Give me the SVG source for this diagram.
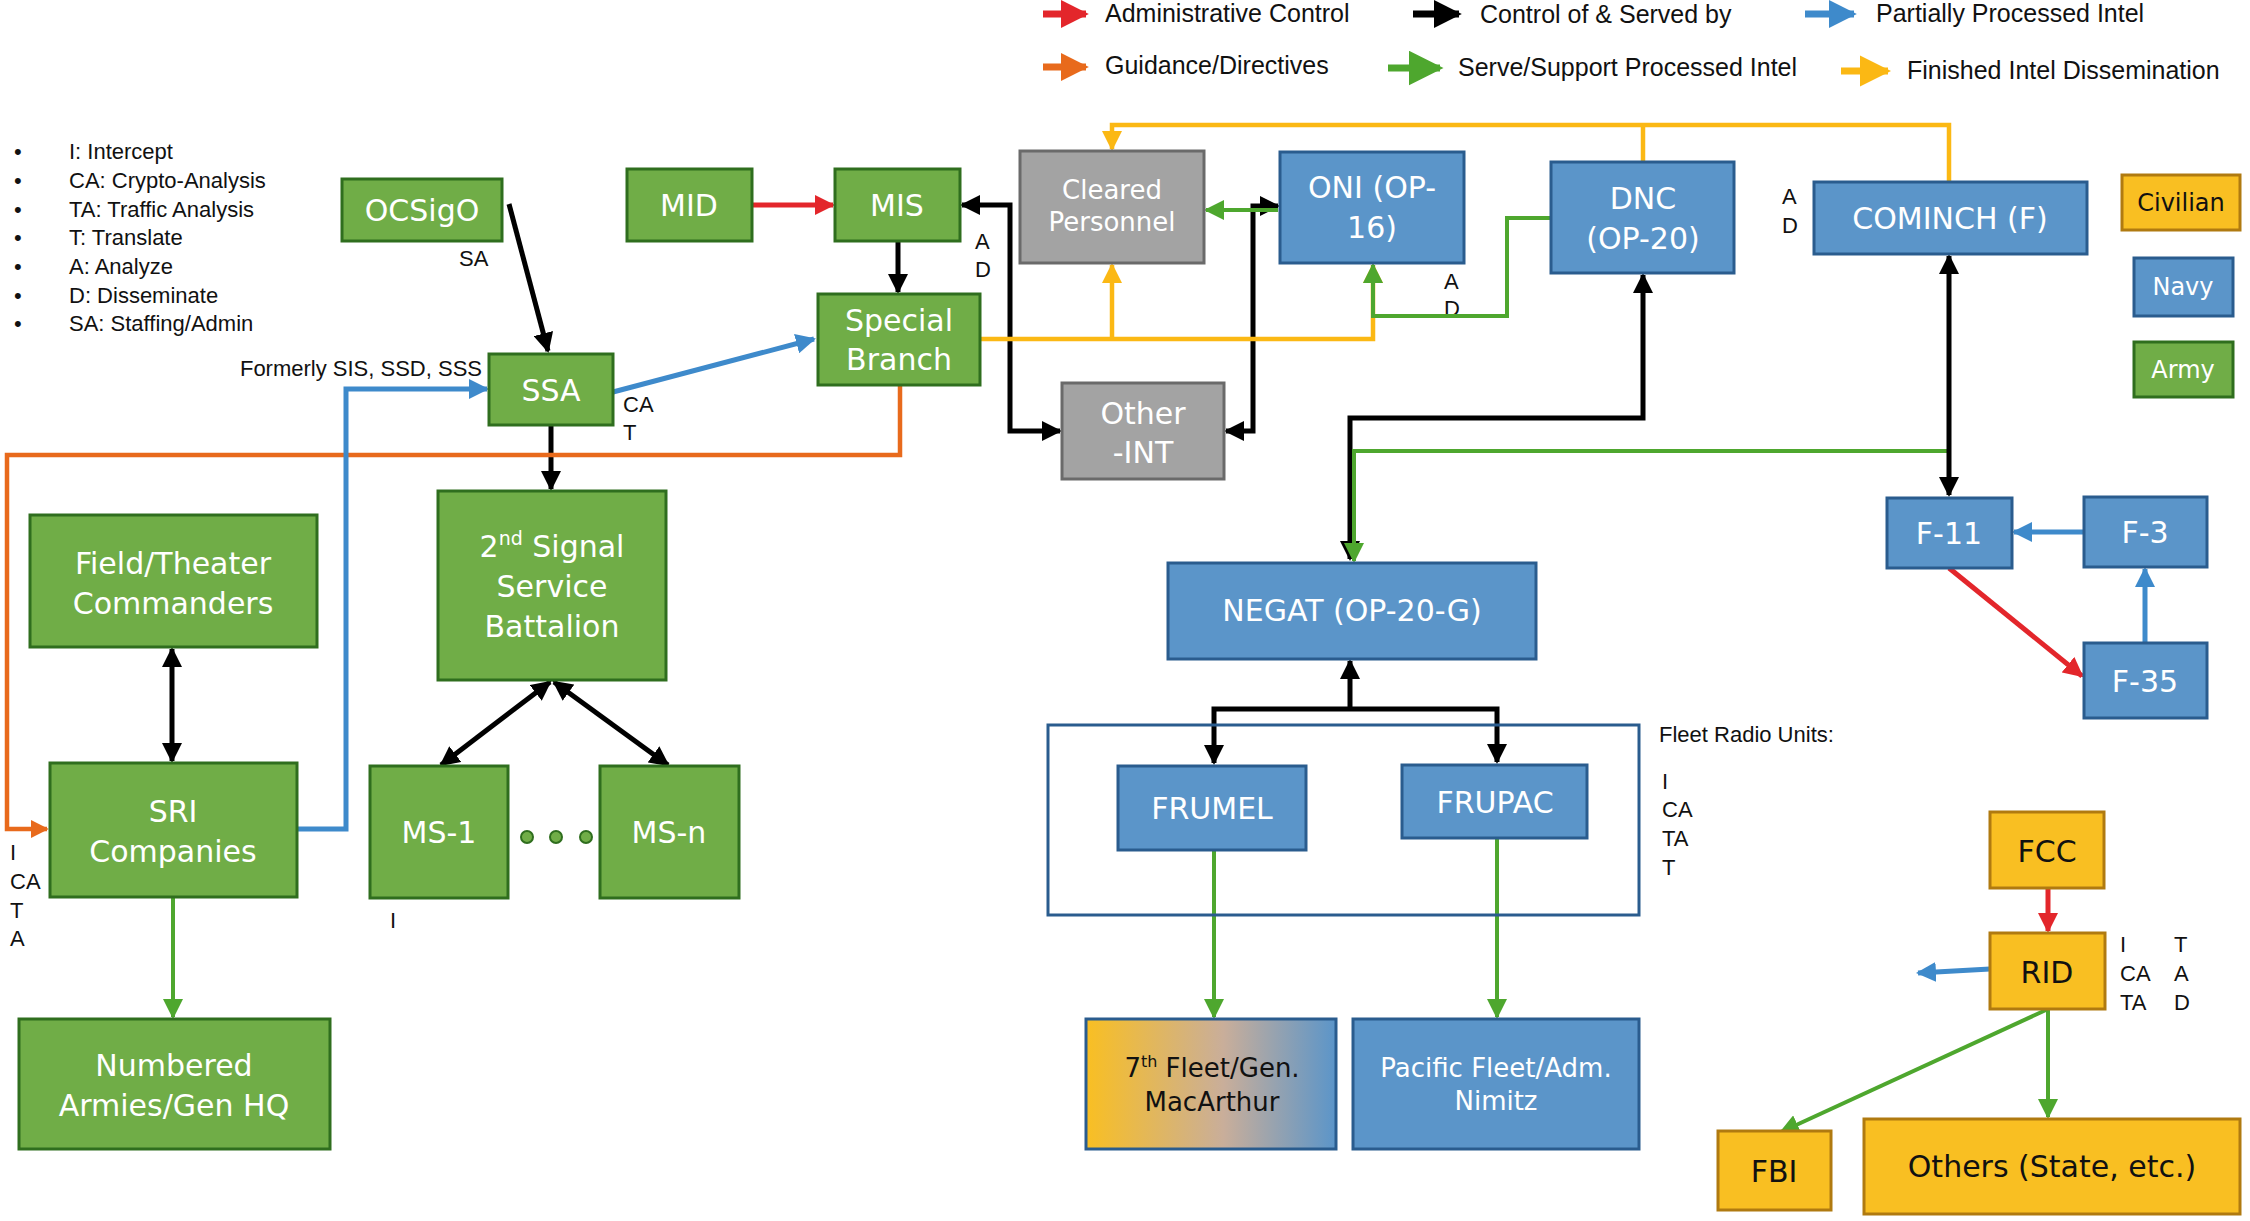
<svg xmlns="http://www.w3.org/2000/svg" width="2250" height="1221" viewBox="0 0 2250 1221">
<style>
.g{fill:#70AD47;stroke:#2F6E1E;stroke-width:3}
.b{fill:#5B95C9;stroke:#2A5C8E;stroke-width:3}
.y{fill:#F9BF22;stroke:#B07A10;stroke-width:3}
.gr{fill:#A3A3A3;stroke:#6A6A6A;stroke-width:3}
.t{font-family:"DejaVu Sans",sans-serif;fill:#fff;text-anchor:middle}
.tk{font-family:"DejaVu Sans",sans-serif;fill:#111;text-anchor:middle}
.s{font-family:"Liberation Sans",Arial,sans-serif;fill:#111;font-size:22px}
.l{font-family:"Liberation Sans",Arial,sans-serif;fill:#111;font-size:25px}
line,polyline{fill:none}
.k{stroke:#000;stroke-width:5}
.r{stroke:#E3262B;stroke-width:5}
.bl{stroke:#3E8ACB;stroke-width:5}
.o{stroke:#E86A1C;stroke-width:4.5}
.gn{stroke:#4EA72E;stroke-width:4}
.yl{stroke:#FBB814;stroke-width:4.5}
</style>
<defs>
<marker id="mk" viewBox="0 0 10 10" refX="9" refY="5" markerWidth="4" markerHeight="4" orient="auto-start-reverse"><path d="M0,0L10,5L0,10z" fill="#000"/></marker>
<marker id="mr" viewBox="0 0 10 10" refX="9" refY="5" markerWidth="4" markerHeight="4" orient="auto"><path d="M0,0L10,5L0,10z" fill="#E3262B"/></marker>
<marker id="mb" viewBox="0 0 10 10" refX="9" refY="5" markerWidth="4" markerHeight="4" orient="auto"><path d="M0,0L10,5L0,10z" fill="#3E8ACB"/></marker>
<marker id="mo" viewBox="0 0 10 10" refX="9" refY="5" markerWidth="4" markerHeight="4" orient="auto"><path d="M0,0L10,5L0,10z" fill="#E86A1C"/></marker>
<marker id="mg" viewBox="0 0 10 10" refX="9" refY="5" markerWidth="5" markerHeight="5" orient="auto"><path d="M0,0L10,5L0,10z" fill="#4EA72E"/></marker>
<marker id="my" viewBox="0 0 10 10" refX="9" refY="5" markerWidth="4.5" markerHeight="4.5" orient="auto"><path d="M0,0L10,5L0,10z" fill="#FBB814"/></marker>
<linearGradient id="grad" x1="0" x2="1" y1="0" y2="0"><stop offset="0" stop-color="#F9BF22"/><stop offset="0.55" stop-color="#C9AE9A"/><stop offset="1" stop-color="#5B95C9"/></linearGradient>
</defs>
<rect width="2250" height="1221" fill="#fff"/>

<g id="legend">
<line x1="1043" y1="14" x2="1086" y2="14" stroke="#E3262B" stroke-width="7" marker-end="url(#mr)"/>
<text class="l" x="1105" y="22">Administrative Control</text>
<line x1="1413" y1="14" x2="1459" y2="14" stroke="#000" stroke-width="7" marker-end="url(#mk)"/>
<text class="l" x="1480" y="23">Control of &amp; Served by</text>
<line x1="1805" y1="14" x2="1854" y2="14" stroke="#3E8ACB" stroke-width="7" marker-end="url(#mb)"/>
<text class="l" x="1876" y="22">Partially Processed Intel</text>
<line x1="1043" y1="67" x2="1086" y2="67" stroke="#E86A1C" stroke-width="7" marker-end="url(#mo)"/>
<text class="l" x="1105" y="74">Guidance/Directives</text>
<line x1="1388" y1="68" x2="1440" y2="68" stroke="#4EA72E" stroke-width="7" marker-end="url(#mg)"/>
<text class="l" x="1458" y="76">Serve/Support Processed Intel</text>
<line x1="1841" y1="71" x2="1888" y2="71" stroke="#FBB814" stroke-width="7" marker-end="url(#my)"/>
<text class="l" x="1907" y="79">Finished Intel Dissemination</text>
</g>

<g id="abbrev" class="s">
<text x="14" y="159">•</text><text x="69" y="159">I: Intercept</text>
<text x="14" y="188">•</text><text x="69" y="188">CA: Crypto-Analysis</text>
<text x="14" y="217">•</text><text x="69" y="217">TA: Traffic Analysis</text>
<text x="14" y="245">•</text><text x="69" y="245">T: Translate</text>
<text x="14" y="274">•</text><text x="69" y="274">A: Analyze</text>
<text x="14" y="303">•</text><text x="69" y="303">D: Disseminate</text>
<text x="14" y="331">•</text><text x="69" y="331">SA: Staffing/Admin</text>
</g>

<g id="labels" class="s">
<text x="459" y="266">SA</text>
<text x="482" y="376" text-anchor="end">Formerly SIS, SSD, SSS</text>
<text x="623" y="412">CA</text><text x="623" y="440">T</text>
<text x="975" y="249">A</text><text x="975" y="277">D</text>
<text x="1444" y="289">A</text><text x="1444" y="316">D</text>
<text x="1782" y="204">A</text><text x="1782" y="233">D</text>
<text x="10" y="860">I</text><text x="10" y="889">CA</text><text x="10" y="918">T</text><text x="10" y="946">A</text>
<text x="390" y="928">I</text>
<text x="1659" y="742">Fleet Radio Units:</text>
<text x="1662" y="789">I</text><text x="1662" y="817">CA</text><text x="1662" y="846">TA</text><text x="1662" y="875">T</text>
<text x="2120" y="952">I</text><text x="2120" y="981">CA</text><text x="2120" y="1010">TA</text>
<text x="2174" y="952">T</text><text x="2174" y="981">A</text><text x="2174" y="1010">D</text>
</g>

<g id="connectors">
<line class="r" x1="752" y1="205" x2="833" y2="205" marker-end="url(#mr)"/>
<line class="k" x1="509" y1="204" x2="548" y2="351" marker-end="url(#mk)"/>
<line class="k" x1="898" y1="241" x2="898" y2="292" marker-end="url(#mk)"/>
<line class="bl" x1="613" y1="392" x2="814" y2="339" marker-end="url(#mb)"/>
<line class="k" x1="551" y1="425" x2="551" y2="489" marker-end="url(#mk)"/>
<polyline class="o" points="900,385 900,455 7,455 7,829 47,829" marker-end="url(#mo)"/>
<polyline class="bl" points="297,829 346,829 346,389 487,389" marker-end="url(#mb)"/>
<polyline class="k" points="962,205 1010,205 1010,431 1060,431" marker-start="url(#mk)" marker-end="url(#mk)"/>
<polyline class="k" points="1278,206 1253,206 1253,431 1226,431" marker-start="url(#mk)" marker-end="url(#mk)"/>
<line class="gn" x1="1278" y1="210" x2="1206" y2="210" marker-end="url(#mg)"/>
<polyline class="yl" points="980,339 1373,339 1373,265" marker-end="url(#my)"/>
<line class="yl" x1="1112" y1="339" x2="1112" y2="265" marker-end="url(#my)"/>
<polyline class="yl" points="1949,182 1949,125 1112,125 1112,149" marker-end="url(#my)"/>
<line class="yl" x1="1643" y1="162" x2="1643" y2="125"/>
<polyline class="gn" points="1551,218 1507,218 1507,316 1373,316 1373,265" marker-end="url(#mg)"/>
<polyline class="k" points="1643,275 1643,418 1350,418 1350,559" marker-start="url(#mk)" marker-end="url(#mk)"/>
<polyline class="gn" points="1949,451 1354,451 1354,561" marker-end="url(#mg)"/>
<line class="k" x1="1949" y1="256" x2="1949" y2="495" marker-start="url(#mk)" marker-end="url(#mk)"/>
<line class="bl" x1="2084" y1="532" x2="2014" y2="532" marker-end="url(#mb)"/>
<line class="r" x1="1949" y1="568" x2="2082" y2="676" marker-end="url(#mr)"/>
<line class="bl" stroke-width="4" x1="2145" y1="643" x2="2145" y2="569" marker-end="url(#mb)"/>
<polyline class="k" points="1350,661 1350,709" marker-start="url(#mk)"/>
<polyline class="k" points="1214,763 1214,709 1497,709 1497,762" marker-start="url(#mk)" marker-end="url(#mk)"/>
<line class="gn" x1="1214" y1="850" x2="1214" y2="1017" marker-end="url(#mg)"/>
<line class="gn" x1="1497" y1="838" x2="1497" y2="1017" marker-end="url(#mg)"/>
<line class="r" stroke-width="4" x1="2048" y1="888" x2="2048" y2="931" marker-end="url(#mr)"/>
<line class="bl" x1="1990" y1="969" x2="1918" y2="973" marker-end="url(#mb)"/>
<line class="gn" stroke-width="5" x1="2048" y1="1009" x2="1781" y2="1132" marker-end="url(#mg)"/>
<line class="gn" x1="2048" y1="1009" x2="2048" y2="1117" marker-end="url(#mg)"/>
<line class="k" x1="172" y1="649" x2="172" y2="761" marker-start="url(#mk)" marker-end="url(#mk)"/>
<line class="k" x1="550" y1="682" x2="441" y2="765" marker-start="url(#mk)" marker-end="url(#mk)"/>
<line class="k" x1="554" y1="682" x2="668" y2="765" marker-start="url(#mk)" marker-end="url(#mk)"/>
<line class="gn" x1="173" y1="897" x2="173" y2="1017" marker-end="url(#mg)"/>
</g>

<g id="OCSigO"><rect class="g" x="342" y="179" width="160" height="62"/><text class="t" x="422" y="221" font-size="30">OCSigO</text></g>
<g id="MID"><rect class="g" x="627" y="169" width="125" height="72"/><text class="t" x="689" y="216" font-size="30">MID</text></g>
<g id="MIS"><rect class="g" x="835" y="169" width="125" height="72"/><text class="t" x="897" y="216" font-size="30">MIS</text></g>
<g id="SpecialBranch"><rect class="g" x="818" y="294" width="162" height="91"/><text class="t" x="899" y="331" font-size="30">Special</text><text class="t" x="899" y="370" font-size="30">Branch</text></g>
<g id="SSA"><rect class="g" x="489" y="354" width="124" height="71"/><text class="t" x="551" y="401" font-size="30">SSA</text></g>
<g id="ClearedPersonnel"><rect class="gr" x="1020" y="151" width="184" height="112"/><text class="t" x="1112" y="199" font-size="26">Cleared</text><text class="t" x="1112" y="231" font-size="26">Personnel</text></g>
<g id="ONI"><rect class="b" x="1280" y="152" width="184" height="111"/><text class="t" x="1372" y="198" font-size="30">ONI (OP-</text><text class="t" x="1372" y="238" font-size="30">16)</text></g>
<g id="DNC"><rect class="b" x="1551" y="162" width="183" height="111"/><text class="t" x="1643" y="209" font-size="30">DNC</text><text class="t" x="1643" y="249" font-size="30">(OP-20)</text></g>
<g id="COMINCH"><rect class="b" x="1814" y="182" width="273" height="72"/><text class="t" x="1950" y="229" font-size="30">COMINCH (F)</text></g>
<g id="Civilian"><rect class="y" x="2122" y="175" width="118" height="55"/><text class="tk" x="2181" y="211" font-size="24">Civilian</text></g>
<g id="Navy"><rect class="b" x="2134" y="258" width="99" height="58"/><text class="t" x="2183" y="295" font-size="24">Navy</text></g>
<g id="Army"><rect class="g" x="2134" y="342" width="99" height="55"/><text class="t" x="2183" y="378" font-size="24">Army</text></g>
<g id="OtherINT"><rect class="gr" x="1062" y="383" width="162" height="96"/><text class="t" x="1143" y="424" font-size="30">Other</text><text class="t" x="1143" y="463" font-size="30">-INT</text></g>
<g id="SecondSignal"><rect class="g" x="438" y="491" width="228" height="189"/><text class="t" x="552" y="557" font-size="30">2<tspan font-size="19" dy="-12">nd</tspan><tspan dy="12"> Signal</tspan></text><text class="t" x="552" y="597" font-size="30">Service</text><text class="t" x="552" y="637" font-size="30">Battalion</text></g>
<g id="FieldTheater"><rect class="g" x="30" y="515" width="287" height="132"/><text class="t" x="173" y="574" font-size="30">Field/Theater</text><text class="t" x="173" y="614" font-size="30">Commanders</text></g>
<g id="SRI"><rect class="g" x="50" y="763" width="247" height="134"/><text class="t" x="173" y="822" font-size="30">SRI</text><text class="t" x="173" y="862" font-size="30">Companies</text></g>
<g id="MS1"><rect class="g" x="370" y="766" width="138" height="132"/><text class="t" x="439" y="843" font-size="30">MS-1</text></g>
<g id="dots"><circle cx="527" cy="837" r="6" fill="#70AD47" stroke="#2F6E1E" stroke-width="2"/><circle cx="556" cy="837" r="6" fill="#70AD47" stroke="#2F6E1E" stroke-width="2"/><circle cx="586" cy="837" r="6" fill="#70AD47" stroke="#2F6E1E" stroke-width="2"/></g>
<g id="MSn"><rect class="g" x="600" y="766" width="139" height="132"/><text class="t" x="669" y="843" font-size="30">MS-n</text></g>
<g id="Numbered"><rect class="g" x="19" y="1019" width="311" height="130"/><text class="t" x="174" y="1076" font-size="30">Numbered</text><text class="t" x="174" y="1116" font-size="30">Armies/Gen HQ</text></g>
<g id="NEGAT"><rect class="b" x="1168" y="563" width="368" height="96"/><text class="t" x="1352" y="621" font-size="30">NEGAT (OP-20-G)</text></g>
<g id="F11"><rect class="b" x="1887" y="498" width="125" height="70"/><text class="t" x="1949" y="544" font-size="30">F-11</text></g>
<g id="F3"><rect class="b" x="2084" y="497" width="123" height="70"/><text class="t" x="2145" y="543" font-size="30">F-3</text></g>
<g id="F35"><rect class="b" x="2084" y="643" width="123" height="75"/><text class="t" x="2145" y="692" font-size="30">F-35</text></g>
<g id="FleetRadioUnits"><rect x="1048" y="725" width="591" height="190" fill="none" stroke="#2A5C8E" stroke-width="3"/></g>
<g id="FRUMEL"><rect class="b" x="1118" y="766" width="188" height="84"/><text class="t" x="1212" y="819" font-size="30">FRUMEL</text></g>
<g id="FRUPAC"><rect class="b" x="1402" y="765" width="185" height="73"/><text class="t" x="1495" y="813" font-size="30">FRUPAC</text></g>
<g id="SeventhFleet"><rect x="1086" y="1019" width="250" height="130" fill="url(#grad)" stroke="#2A5C8E" stroke-width="3"/><text class="tk" x="1212" y="1077" font-size="26">7<tspan font-size="16" dy="-10">th</tspan><tspan dy="10"> Fleet/Gen.</tspan></text><text class="tk" x="1212" y="1111" font-size="26">MacArthur</text></g>
<g id="PacificFleet"><rect class="b" x="1353" y="1019" width="286" height="130"/><text class="t" x="1496" y="1077" font-size="26">Pacific Fleet/Adm.</text><text class="t" x="1496" y="1110" font-size="26">Nimitz</text></g>
<g id="FCC"><rect class="y" x="1990" y="812" width="114" height="76"/><text class="tk" x="2047" y="862" font-size="30">FCC</text></g>
<g id="RID"><rect class="y" x="1990" y="933" width="115" height="76"/><text class="tk" x="2047" y="983" font-size="30">RID</text></g>
<g id="FBI"><rect class="y" x="1718" y="1131" width="113" height="79"/><text class="tk" x="1774" y="1182" font-size="30">FBI</text></g>
<g id="Others"><rect class="y" x="1864" y="1119" width="376" height="95"/><text class="tk" x="2052" y="1177" font-size="30">Others (State, etc.)</text></g>
</svg>
